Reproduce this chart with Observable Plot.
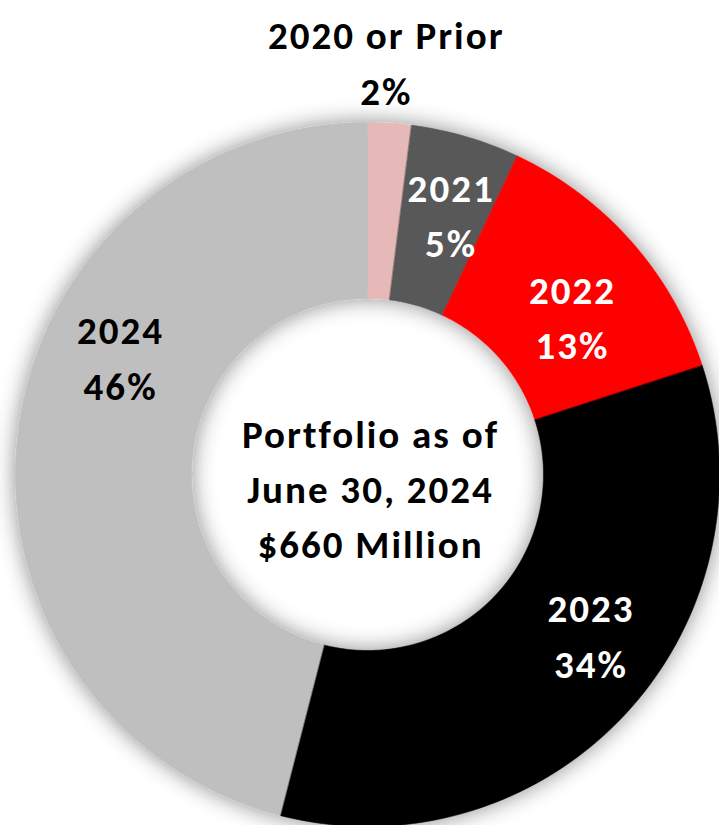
<!DOCTYPE html>
<html>
<head>
<meta charset="utf-8">
<script src="https://cdn.jsdelivr.net/npm/d3@7"></script>
<script src="https://cdn.jsdelivr.net/npm/@observablehq/plot@0.6"></script>
<style>
  html, body { margin: 0; padding: 0; background: #ffffff; }
  #chart svg { display: block; }
</style>
</head>
<body>
<div id="chart"></div>
<script>
// ---- data ----
const categories = ["2020 or Prior", "2021", "2022", "2023", "2024"];
const shares = [2, 5, 13, 34, 46];
const sliceColors = ["#E6B9B8", "#595959", "#FF0000", "#000000", "#BFBFBF"];
const labelColors = ["#000000", "#ffffff", "#ffffff", "#ffffff", "#000000"];
const centerLines = ["Portfolio as of", "June 30, 2024", "$660 Million"];

// ---- layout (code, not data) ----
const W = 719, H = 825;
const cx = 367, cy = 474, R = 352;   // donut centre and outer radius in pixels
const innerRatio = 0.5;
const FONT = "Calibri, Carlito, Lato, 'Open Sans', sans-serif";
const FS = 39;

const rows = categories.map((c, i) => ({category: c, share: shares[i]}));
const pie = d3.pie().sort(null).value(d => d.share).startAngle(0).endAngle(2 * Math.PI);
const arcs = pie(rows);

// polygon outline of each ring slice, in units of the outer radius
const ringPoints = [];
for (const a of arcs) {
  const n = Math.max(2, Math.ceil((a.endAngle - a.startAngle) / (Math.PI / 180)));
  for (let k = 0; k <= n; ++k) {
    const t = a.startAngle + (a.endAngle - a.startAngle) * k / n;
    ringPoints.push({category: a.data.category, x: Math.sin(t), y: Math.cos(t)});
  }
  for (let k = n; k >= 0; --k) {
    const t = a.startAngle + (a.endAngle - a.startAngle) * k / n;
    ringPoints.push({category: a.data.category, x: innerRatio * Math.sin(t), y: innerRatio * Math.cos(t)});
  }
}

// label anchors: slice mid-angle, inside the ring (first one outside, above)
const labels = arcs.map((a, i) => {
  const mid = (a.startAngle + a.endAngle) / 2;
  const r = i === 0 ? 1.165 : (1 + innerRatio) / 2;
  return {x: r * Math.sin(mid), y: r * Math.cos(mid), text: `${a.data.category}\n${a.data.share}%`};
});
// manual label nudges (pixels), as placed in the original
const nudges = [[-7, -6], [10, -9], [7, 14], [31, -23], [15, -87]];

const textMarks = labels.map((l, i) => Plot.text([l], {
  x: "x", y: "y", text: "text",
  fill: labelColors[i],
  fontSize: FS, fontWeight: "bold", fontFamily: FONT,
  lineHeight: 1.42,
  dx: nudges[i][0], dy: nudges[i][1]
}));

const plot = Plot.plot({
  width: W,
  height: H,
  margin: 0,
  x: {domain: [-cx / R, (W - cx) / R], axis: null},
  y: {domain: [-(H - cy) / R, cy / R], axis: null},
  color: {domain: categories, range: sliceColors},
  style: {background: "#ffffff"},
  marks: [
    Plot.line(ringPoints, {
      x: "x", y: "y", z: "category",
      fill: "category", stroke: "category", strokeWidth: 0.6,
      curve: "linear-closed"
    }),
    ...textMarks,
    Plot.text([{x: 0, y: 0, text: centerLines.join("\n")}], {
      x: "x", y: "y", text: "text",
      fill: "#000000",
      fontSize: FS, fontWeight: "bold", fontFamily: FONT,
      lineHeight: 1.4, dx: 3, dy: 11
    })
  ]
});

// soft glow around the ring (also shades the edge of the hole)
const svg = d3.select(plot);
const defs = svg.insert("defs", ":first-child");
const f = defs.append("filter").attr("id", "ringGlow")
  .attr("x", "-20%").attr("y", "-20%").attr("width", "140%").attr("height", "140%");
f.append("feDropShadow").attr("dx", 0).attr("dy", 0)
  .attr("stdDeviation", 11).attr("flood-color", "#000").attr("flood-opacity", 0.45);
svg.select('g[aria-label="line"]').attr("filter", "url(#ringGlow)");
// wider letter spacing to match the original face's width
svg.selectAll('g[aria-label="text"]').attr("letter-spacing", "2px");

document.getElementById("chart").appendChild(plot);
</script>
</body>
</html>
